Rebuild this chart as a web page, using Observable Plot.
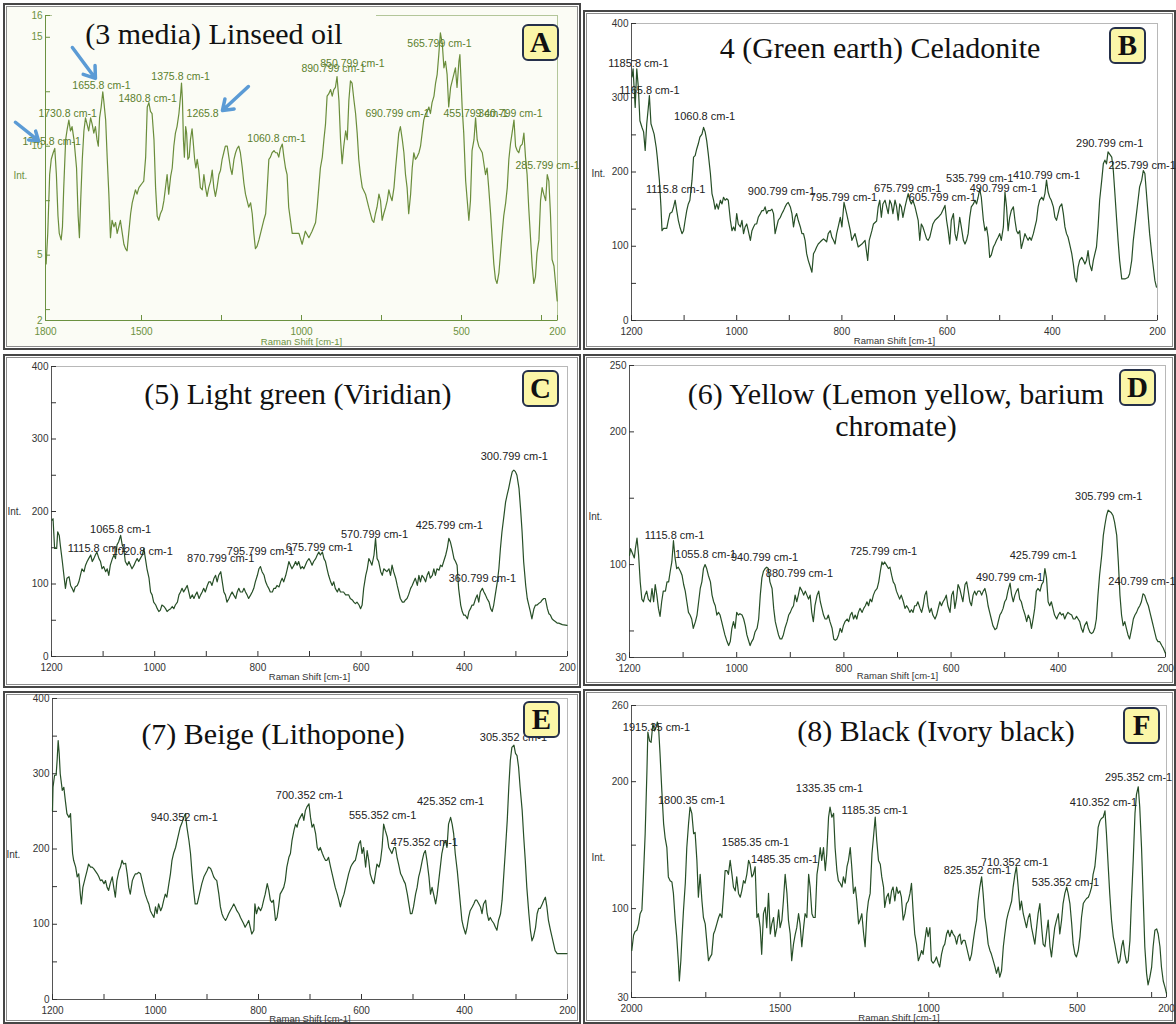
<!DOCTYPE html>
<html><head><meta charset="utf-8">
<script src="https://cdn.jsdelivr.net/npm/d3@7"></script>
<script src="https://cdn.jsdelivr.net/npm/@observablehq/plot@0.6"></script>
<style>
body{margin:0;background:#fff;}
#page{position:relative;width:1176px;height:1024px;overflow:hidden;background:#fff;}
.panel{position:absolute;box-sizing:border-box;border:2px solid #464646;box-shadow:inset 0 0 0 1px #fff, inset 0 0 0 2px #8c8c8c;}
.chart{position:absolute;}
.chart svg{display:block;overflow:visible;}
.title{position:absolute;width:640px;font-family:"Liberation Serif","Times New Roman",serif;font-size:30px;line-height:32px;color:#111;text-align:center;white-space:nowrap;}
.badge{position:absolute;width:37px;height:37px;box-sizing:border-box;border:2px solid #25304a;border-radius:6px;background:#fbf6a8;font-family:"Liberation Serif","Times New Roman",serif;font-weight:bold;font-size:29px;line-height:33px;text-align:center;color:#111;}
.strip{position:absolute;}
</style></head>
<body><div id="page"></div>
<script>
// ---------------- DATA ----------------
const titleA = "(3 media) Linseed oil";
const titleB = "4 (Green earth) Celadonite";
const titleC = "(5) Light green (Viridian)";
const titleD = ["(6) Yellow (Lemon yellow, barium", "chromate)"];
const titleE = "(7) Beige (Lithopone)";
const titleF = "(8) Black (Ivory black)";
const xAxisLabel = "Raman Shift [cm-1]";
const yAxisLabel = "Int.";

// spectra: [Raman shift (cm-1), intensity]
const spectrumA = [[1798,4.6],[1793,6.0],[1787,8.7],[1782,9.4],[1776,9.7],[1771,9.9],[1766,8.7],[1761,6.8],[1757,6.0],[1751,5.7],[1747,6.3],[1743,8.1],[1737,10.3],[1732,10.8],[1727,11.2],[1722,10.7],[1717,10.9],[1711,10.3],[1703,9.0],[1698,6.8],[1694,5.8],[1690,7.5],[1685,9.4],[1680,10.7],[1675,11.3],[1670,11.0],[1665,10.7],[1659,11.3],[1654,11.0],[1649,10.6],[1644,10.9],[1639,10.3],[1635,10.0],[1631,11.3],[1626,11.8],[1621,12.5],[1618,12.1],[1612,11.2],[1607,9.4],[1602,7.8],[1597,5.8],[1592,6.6],[1586,6.3],[1581,6.5],[1576,6.0],[1571,6.3],[1566,6.6],[1560,6.0],[1555,5.5],[1550,5.3],[1545,5.2],[1540,6.0],[1534,6.9],[1529,7.4],[1524,7.7],[1519,8.0],[1514,7.8],[1508,8.1],[1503,8.2],[1498,8.3],[1493,8.4],[1487,9.5],[1482,11.8],[1477,12.0],[1472,11.6],[1467,11.5],[1461,10.3],[1456,8.1],[1451,6.8],[1446,6.6],[1441,6.9],[1435,7.1],[1430,7.5],[1425,8.1],[1420,8.7],[1415,7.8],[1409,8.6],[1404,9.0],[1399,10.0],[1394,10.6],[1389,10.9],[1383,11.5],[1378,12.3],[1375,12.9],[1372,12.1],[1369,10.3],[1366,9.5],[1362,10.9],[1359,10.6],[1355,9.4],[1351,9.5],[1347,10.3],[1342,10.8],[1339,10.3],[1334,9.4],[1330,9.0],[1326,9.4],[1321,8.9],[1316,8.1],[1310,8.0],[1305,8.7],[1300,8.1],[1295,7.7],[1290,8.1],[1284,8.4],[1279,8.9],[1274,8.1],[1269,7.7],[1264,8.1],[1258,8.7],[1253,8.9],[1248,9.4],[1243,9.7],[1238,10.0],[1232,10.0],[1227,9.5],[1222,9.0],[1217,8.7],[1211,9.4],[1206,9.7],[1201,9.9],[1196,10.0],[1191,9.7],[1185,9.0],[1180,8.3],[1175,7.8],[1170,7.5],[1165,7.2],[1159,7.4],[1154,6.9],[1149,6.0],[1144,5.3],[1139,5.4],[1133,5.7],[1128,6.0],[1123,6.3],[1118,6.6],[1112,6.9],[1107,8.1],[1102,9.4],[1097,9.5],[1092,9.7],[1086,9.8],[1081,9.7],[1076,9.7],[1071,9.5],[1066,9.9],[1060,10.1],[1055,9.5],[1050,9.0],[1045,8.7],[1040,7.2],[1029,6.0],[1019,6.0],[1008,6.0],[998,5.5],[988,6.1],[977,5.8],[967,6.1],[956,6.5],[951,7.2],[946,8.1],[941,9.0],[935,9.5],[930,10.3],[925,11.0],[920,12.3],[915,12.4],[909,12.6],[904,12.3],[899,12.6],[894,12.7],[889,13.2],[883,12.1],[878,10.3],[873,9.2],[868,10.0],[862,10.7],[857,10.3],[852,12.1],[847,13.0],[842,12.9],[836,12.1],[831,11.5],[826,10.6],[821,9.4],[816,8.7],[810,8.1],[800,7.8],[790,7.2],[779,6.6],[774,6.5],[769,6.9],[764,7.2],[758,7.8],[753,7.5],[748,6.6],[743,6.9],[737,7.2],[732,7.5],[727,8.0],[722,7.7],[717,7.5],[711,8.1],[706,9.0],[701,9.8],[696,10.6],[691,10.9],[685,10.3],[680,9.7],[675,8.7],[670,8.1],[665,6.9],[659,7.8],[654,9.0],[649,9.7],[644,9.4],[639,9.5],[633,9.7],[628,10.0],[623,10.6],[618,11.2],[612,11.5],[607,11.6],[602,11.8],[597,11.5],[592,12.0],[586,12.3],[581,12.9],[576,13.3],[571,14.2],[566,15.2],[560,14.7],[555,13.6],[550,13.9],[545,13.3],[540,11.8],[534,12.7],[529,13.0],[524,13.3],[519,13.6],[514,12.7],[508,13.9],[505,14.2],[502,13.2],[498,11.8],[493,10.6],[487,8.4],[482,7.5],[477,6.6],[472,7.5],[467,9.8],[461,10.3],[456,11.3],[451,10.3],[446,10.0],[435,9.7],[425,8.7],[420,9.0],[415,8.1],[409,6.9],[404,5.7],[399,4.6],[394,3.9],[389,3.7],[383,4.2],[378,5.1],[373,6.0],[368,6.8],[362,7.4],[357,8.1],[352,9.4],[347,10.1],[342,10.6],[336,11.2],[331,10.0],[326,9.8],[321,9.7],[316,10.0],[310,10.1],[305,10.6],[300,9.5],[295,8.7],[290,7.2],[284,5.7],[279,4.5],[274,3.7],[269,4.0],[264,5.1],[258,5.7],[253,7.5],[248,8.1],[243,7.8],[237,7.5],[232,8.7],[227,8.4],[222,6.9],[217,4.8],[211,4.5],[206,3.7],[201,2.9]];

const spectrumB = [[1199,328],[1197,339],[1193,287],[1190,339],[1187,314],[1184,269],[1180,260],[1177,254],[1174,229],[1171,265],[1168,287],[1166,303],[1163,265],[1160,258],[1157,251],[1153,233],[1151,220],[1147,189],[1144,153],[1142,121],[1139,124],[1133,124],[1130,135],[1127,144],[1123,146],[1120,153],[1117,162],[1114,148],[1111,135],[1108,126],[1104,117],[1101,121],[1098,135],[1095,148],[1092,157],[1089,162],[1085,189],[1082,220],[1079,222],[1076,231],[1073,238],[1070,247],[1066,251],[1063,260],[1060,254],[1057,242],[1054,224],[1050,198],[1047,171],[1044,162],[1041,150],[1038,157],[1035,150],[1031,162],[1028,157],[1025,166],[1022,162],[1019,164],[1016,162],[1012,135],[1009,121],[1006,126],[1003,121],[1000,144],[997,130],[993,126],[990,135],[987,117],[984,126],[981,130],[978,121],[974,108],[971,121],[968,126],[965,130],[962,130],[959,139],[955,144],[952,148],[949,148],[946,153],[943,144],[940,148],[936,148],[933,150],[930,144],[927,117],[924,126],[921,135],[917,139],[914,144],[911,148],[908,153],[905,157],[902,159],[898,153],[895,144],[892,126],[889,139],[886,144],[883,135],[879,126],[876,117],[873,117],[870,108],[867,90],[864,81],[860,72],[857,65],[854,90],[851,94],[848,99],[845,103],[841,106],[838,108],[835,110],[832,108],[829,106],[826,117],[822,121],[819,112],[816,108],[813,103],[810,117],[807,126],[803,139],[800,126],[796,159],[791,144],[784,121],[781,108],[775,117],[769,99],[762,103],[756,108],[751,81],[748,108],[743,121],[740,130],[734,134],[731,153],[728,162],[725,139],[722,157],[718,162],[715,153],[712,144],[709,162],[706,157],[703,144],[699,162],[696,153],[693,135],[690,157],[687,153],[684,139],[680,153],[677,162],[674,171],[671,162],[668,157],[665,162],[661,153],[658,144],[655,135],[652,108],[649,130],[646,126],[642,117],[639,110],[636,108],[633,112],[630,121],[627,130],[623,135],[617,139],[611,144],[604,155],[601,135],[598,121],[595,103],[592,135],[588,144],[585,117],[582,108],[579,121],[576,139],[573,126],[569,108],[566,103],[563,108],[560,117],[557,139],[554,153],[550,157],[547,162],[544,157],[541,166],[538,177],[535,166],[531,135],[528,121],[525,126],[522,112],[519,85],[516,88],[512,99],[509,103],[506,108],[503,112],[500,117],[497,108],[493,126],[490,173],[487,153],[484,121],[481,139],[478,148],[474,153],[471,135],[468,121],[465,117],[462,121],[459,97],[455,108],[452,117],[449,112],[446,108],[443,112],[440,108],[436,117],[433,126],[430,135],[427,153],[424,162],[420,166],[417,162],[414,171],[411,189],[408,173],[405,166],[402,162],[398,153],[395,139],[392,135],[389,144],[386,153],[382,157],[379,144],[376,126],[373,117],[370,112],[367,103],[363,90],[360,76],[357,58],[354,52],[351,72],[348,81],[344,85],[341,81],[338,76],[335,81],[332,94],[329,76],[325,67],[322,81],[319,90],[316,99],[313,126],[310,162],[306,189],[303,211],[300,216],[297,211],[294,227],[291,224],[287,220],[284,202],[281,171],[278,139],[275,108],[272,81],[268,56],[262,56],[256,58],[253,63],[249,81],[246,108],[243,126],[240,144],[237,162],[234,180],[230,189],[227,202],[224,198],[221,171],[218,144],[215,117],[211,90],[208,72],[205,54],[202,45]];

const spectrumC = [[1199,188],[1197,190],[1194,149],[1190,149],[1188,172],[1185,167],[1183,154],[1179,131],[1176,112],[1173,94],[1170,108],[1166,110],[1163,98],[1160,94],[1157,89],[1154,96],[1150,98],[1147,103],[1144,112],[1141,121],[1137,117],[1134,126],[1131,131],[1128,135],[1124,140],[1121,131],[1118,135],[1115,140],[1112,144],[1108,135],[1105,131],[1102,121],[1099,124],[1095,117],[1092,121],[1089,112],[1086,126],[1082,135],[1079,140],[1076,135],[1073,154],[1070,158],[1066,167],[1063,154],[1060,149],[1057,131],[1053,126],[1050,131],[1047,126],[1044,121],[1040,126],[1037,131],[1034,135],[1031,131],[1028,135],[1024,140],[1021,149],[1018,135],[1015,121],[1011,108],[1008,89],[1005,85],[1002,75],[998,71],[995,66],[992,62],[989,64],[986,71],[982,69],[979,66],[976,62],[973,64],[969,66],[966,69],[963,66],[960,71],[956,75],[953,85],[950,89],[947,94],[944,89],[940,94],[937,98],[934,89],[931,80],[927,85],[924,80],[921,85],[918,89],[914,80],[911,85],[908,89],[905,94],[902,89],[898,98],[895,103],[892,103],[889,98],[885,108],[882,112],[879,103],[876,112],[872,117],[869,103],[866,89],[863,85],[860,75],[856,80],[853,85],[850,89],[847,85],[843,80],[840,89],[837,94],[834,89],[830,89],[827,94],[824,89],[821,85],[818,80],[814,85],[811,89],[808,94],[805,103],[801,112],[798,121],[795,124],[792,117],[788,112],[785,103],[782,98],[779,94],[776,89],[772,89],[769,94],[766,94],[763,98],[759,96],[756,103],[753,108],[750,103],[746,112],[743,121],[740,131],[737,126],[734,121],[730,126],[727,131],[724,126],[721,131],[717,121],[714,124],[711,121],[708,126],[705,131],[701,135],[698,131],[695,126],[692,131],[688,135],[685,140],[682,144],[679,140],[675,144],[672,135],[669,131],[666,121],[663,112],[659,103],[656,98],[653,103],[650,94],[646,89],[643,94],[640,89],[637,89],[634,89],[630,85],[624,85],[621,80],[617,78],[614,75],[611,73],[608,75],[604,71],[601,66],[598,71],[595,94],[591,112],[588,121],[585,135],[582,131],[579,126],[575,140],[572,163],[569,135],[566,131],[562,117],[559,112],[556,121],[553,119],[550,117],[546,121],[543,112],[540,126],[537,117],[533,108],[530,98],[527,89],[524,80],[520,75],[517,75],[514,78],[511,80],[508,85],[504,94],[501,98],[498,103],[495,108],[491,98],[488,112],[485,103],[482,112],[478,108],[475,103],[472,112],[469,117],[466,108],[462,112],[459,121],[456,112],[453,121],[449,119],[446,126],[443,124],[440,131],[436,140],[433,149],[430,163],[427,158],[424,149],[420,135],[417,131],[414,126],[411,94],[407,71],[404,62],[401,57],[398,57],[394,52],[391,62],[388,66],[385,71],[382,71],[378,80],[375,85],[372,75],[369,89],[365,94],[362,89],[359,85],[356,80],[352,75],[349,66],[346,62],[343,71],[340,85],[336,103],[333,121],[330,149],[327,172],[323,195],[320,213],[317,223],[314,232],[310,246],[307,255],[304,257],[301,255],[298,250],[294,232],[291,204],[288,172],[285,131],[281,98],[278,80],[275,71],[272,62],[269,52],[265,66],[262,71],[259,71],[256,73],[252,75],[249,78],[246,80],[243,80],[239,66],[236,59],[233,57],[230,52],[227,50],[223,48],[220,46],[217,46],[210,44],[201,43]];

const spectrumD = [[1200,107],[1198,112],[1194,108],[1191,105],[1189,112],[1186,120],[1183,107],[1180,87],[1177,74],[1174,72],[1171,77],[1168,80],[1165,74],[1161,72],[1158,82],[1155,72],[1152,85],[1149,77],[1146,67],[1143,61],[1140,72],[1137,80],[1133,80],[1130,87],[1127,87],[1124,95],[1121,102],[1118,118],[1115,105],[1112,97],[1109,98],[1105,95],[1102,92],[1099,85],[1096,80],[1093,72],[1090,64],[1087,62],[1084,59],[1081,52],[1077,57],[1074,62],[1071,72],[1068,82],[1065,87],[1062,97],[1059,100],[1056,97],[1053,92],[1049,87],[1046,77],[1043,72],[1040,69],[1037,62],[1034,64],[1031,62],[1028,57],[1025,52],[1022,47],[1018,42],[1015,39],[1012,42],[1009,52],[1006,57],[1003,52],[1000,64],[997,62],[994,63],[990,62],[987,59],[984,54],[981,47],[978,43],[975,39],[972,42],[969,44],[966,49],[962,52],[959,59],[956,77],[953,90],[950,95],[947,97],[944,98],[941,97],[938,87],[934,82],[931,67],[928,57],[925,52],[922,47],[919,44],[916,44],[913,47],[910,52],[906,57],[903,62],[900,64],[897,67],[894,69],[891,77],[888,72],[885,77],[882,83],[878,80],[875,77],[872,80],[869,77],[866,74],[863,77],[860,64],[857,57],[854,69],[850,77],[847,80],[844,72],[841,67],[838,62],[835,59],[832,59],[829,62],[826,57],[822,52],[819,44],[816,43],[813,44],[810,47],[807,52],[804,49],[801,54],[798,57],[794,59],[791,57],[788,62],[785,64],[782,59],[779,62],[776,59],[773,64],[770,67],[766,64],[763,67],[760,69],[757,72],[754,69],[751,74],[748,72],[745,77],[742,80],[738,82],[735,87],[732,95],[729,102],[727,100],[724,102],[721,100],[717,97],[714,98],[711,92],[708,87],[705,85],[702,80],[699,77],[696,74],[693,77],[689,72],[686,67],[683,69],[680,67],[677,64],[674,66],[671,64],[668,69],[665,69],[662,72],[658,67],[655,64],[652,69],[649,77],[646,80],[643,69],[640,64],[637,67],[634,62],[630,59],[627,62],[624,67],[621,72],[618,69],[615,72],[612,74],[609,77],[606,69],[602,64],[599,77],[596,80],[593,67],[590,74],[587,85],[584,82],[581,77],[578,72],[574,85],[571,87],[568,80],[565,72],[562,69],[559,77],[556,80],[553,77],[550,80],[546,80],[543,77],[540,80],[537,82],[534,77],[531,69],[528,64],[525,59],[522,54],[518,51],[515,52],[512,57],[509,62],[506,64],[503,67],[500,72],[497,74],[494,80],[490,86],[487,77],[484,72],[481,77],[478,80],[475,82],[472,74],[469,72],[466,67],[462,62],[459,57],[456,62],[453,59],[450,52],[447,59],[444,67],[441,80],[438,82],[434,80],[431,85],[428,87],[425,97],[422,90],[419,72],[416,69],[413,72],[410,67],[407,62],[403,59],[400,62],[397,64],[394,62],[391,63],[388,59],[385,62],[382,64],[379,63],[375,62],[372,59],[369,59],[366,61],[363,59],[360,57],[357,52],[354,49],[351,54],[347,57],[344,52],[341,49],[338,48],[335,49],[332,52],[329,59],[326,77],[323,92],[319,107],[316,122],[313,130],[310,137],[307,141],[304,140],[301,139],[298,137],[295,132],[291,122],[288,102],[285,77],[282,62],[279,54],[276,57],[273,52],[270,47],[267,44],[263,52],[260,59],[257,62],[254,64],[251,67],[248,69],[245,72],[242,78],[239,77],[235,72],[232,69],[229,64],[226,59],[223,54],[220,49],[217,44],[214,42],[211,42],[207,39],[204,37],[201,34],[200,33]];

const spectrumE = [[1200,251],[1199,282],[1196,298],[1193,298],[1191,318],[1189,344],[1187,327],[1185,300],[1181,278],[1178,282],[1175,264],[1172,247],[1168,242],[1165,247],[1163,220],[1161,194],[1159,185],[1155,176],[1152,163],[1149,167],[1146,140],[1144,127],[1141,149],[1136,163],[1133,171],[1130,180],[1126,176],[1123,176],[1120,174],[1117,171],[1113,167],[1110,163],[1107,158],[1104,159],[1100,154],[1097,158],[1094,149],[1091,145],[1088,154],[1084,163],[1081,149],[1078,136],[1075,158],[1071,171],[1068,176],[1065,185],[1062,180],[1058,181],[1055,167],[1052,149],[1049,140],[1045,158],[1042,163],[1039,167],[1036,167],[1033,169],[1029,167],[1026,158],[1023,149],[1020,140],[1016,132],[1013,127],[1010,118],[1007,114],[1003,109],[1000,123],[997,114],[994,127],[990,118],[987,123],[984,132],[981,140],[978,136],[974,154],[971,167],[968,185],[965,194],[961,202],[958,211],[955,220],[952,229],[948,236],[945,242],[942,247],[939,229],[935,211],[932,194],[929,167],[926,145],[923,127],[919,127],[916,136],[913,145],[910,154],[906,163],[903,167],[900,171],[897,176],[893,174],[890,169],[887,163],[884,160],[881,158],[877,140],[874,123],[871,114],[868,109],[864,105],[861,109],[858,114],[855,118],[851,123],[848,127],[845,123],[842,118],[838,114],[835,109],[832,105],[829,101],[826,96],[822,101],[819,105],[816,96],[813,87],[809,92],[807,127],[804,114],[800,123],[796,118],[793,123],[790,132],[787,140],[783,154],[780,145],[777,132],[774,129],[771,132],[767,105],[764,109],[761,123],[758,140],[754,145],[751,149],[748,158],[745,176],[741,189],[738,194],[735,211],[731,225],[728,233],[725,229],[722,238],[719,242],[715,247],[712,238],[709,251],[706,256],[702,260],[699,242],[696,229],[693,233],[689,220],[686,202],[683,198],[680,202],[676,194],[673,189],[670,185],[667,185],[664,189],[660,176],[657,167],[654,158],[651,149],[647,140],[644,132],[641,123],[638,132],[634,140],[631,149],[628,158],[625,167],[621,176],[618,180],[615,183],[612,185],[609,194],[605,207],[602,211],[599,194],[596,202],[592,176],[589,198],[586,185],[583,167],[579,158],[576,154],[573,167],[570,180],[566,176],[563,185],[560,202],[557,233],[554,225],[550,216],[547,202],[544,198],[541,194],[537,202],[534,202],[531,189],[528,180],[524,167],[521,163],[518,158],[515,154],[511,140],[508,127],[505,114],[502,114],[499,123],[495,140],[492,149],[489,163],[486,171],[482,185],[479,194],[476,198],[473,185],[469,163],[466,140],[463,149],[460,140],[456,127],[453,140],[450,158],[447,176],[444,194],[440,207],[437,211],[434,202],[431,233],[427,242],[424,233],[421,220],[418,194],[414,171],[411,149],[408,127],[405,105],[402,96],[398,87],[395,96],[392,109],[389,118],[385,123],[382,127],[379,132],[376,132],[372,127],[369,123],[366,114],[363,127],[359,132],[356,114],[353,105],[350,109],[347,105],[343,101],[340,96],[337,92],[334,105],[330,114],[327,132],[324,163],[321,194],[317,238],[314,282],[311,318],[308,335],[304,338],[301,327],[298,324],[295,309],[292,282],[288,251],[285,216],[282,185],[279,149],[275,114],[272,92],[269,78],[266,83],[262,96],[259,114],[256,121],[253,121],[249,127],[246,132],[243,136],[240,123],[237,105],[233,92],[230,83],[227,74],[224,65],[220,61],[217,61],[211,61],[201,61]];

const spectrumF = [[1999,67],[1993,79],[1988,82],[1982,83],[1976,88],[1971,96],[1965,99],[1960,125],[1954,159],[1948,209],[1945,239],[1939,232],[1934,231],[1928,246],[1923,240],[1917,243],[1913,247],[1909,243],[1904,222],[1898,193],[1892,167],[1887,156],[1881,148],[1876,125],[1870,122],[1864,121],[1859,112],[1853,91],[1848,78],[1842,57],[1839,43],[1834,59],[1830,78],[1825,99],[1819,120],[1814,148],[1808,167],[1803,180],[1797,175],[1791,159],[1786,160],[1780,138],[1775,109],[1769,127],[1763,106],[1758,93],[1752,88],[1747,75],[1741,59],[1735,62],[1730,64],[1724,80],[1719,83],[1713,88],[1707,93],[1702,96],[1696,93],[1690,112],[1685,130],[1679,130],[1674,127],[1668,138],[1662,127],[1657,117],[1651,114],[1646,125],[1640,112],[1634,109],[1629,114],[1623,122],[1618,120],[1612,127],[1606,138],[1601,135],[1595,125],[1590,127],[1584,133],[1578,93],[1573,96],[1567,85],[1562,64],[1556,96],[1550,101],[1545,85],[1539,112],[1533,80],[1528,88],[1522,93],[1517,78],[1511,85],[1505,99],[1500,85],[1494,91],[1489,106],[1483,127],[1477,112],[1472,91],[1466,80],[1461,59],[1455,72],[1449,80],[1444,85],[1438,96],[1433,88],[1427,70],[1421,85],[1416,96],[1410,93],[1404,127],[1399,117],[1393,96],[1388,93],[1382,93],[1376,127],[1371,135],[1365,148],[1360,138],[1354,148],[1348,130],[1343,143],[1337,172],[1332,180],[1326,172],[1320,175],[1315,148],[1309,130],[1304,122],[1298,120],[1292,117],[1287,125],[1281,120],[1275,133],[1270,138],[1264,148],[1259,133],[1253,112],[1247,117],[1242,106],[1236,88],[1231,91],[1225,96],[1219,80],[1214,70],[1208,96],[1203,106],[1197,112],[1191,143],[1186,156],[1180,172],[1175,154],[1169,138],[1163,135],[1158,125],[1152,117],[1148,101],[1142,109],[1136,112],[1131,104],[1125,114],[1120,117],[1114,106],[1108,117],[1103,112],[1097,114],[1092,109],[1086,91],[1080,96],[1075,104],[1069,106],[1063,112],[1058,120],[1052,96],[1047,80],[1041,72],[1035,59],[1030,62],[1024,67],[1019,64],[1013,75],[1007,85],[1002,78],[996,85],[991,59],[985,57],[979,59],[974,62],[968,57],[963,54],[957,64],[951,70],[946,72],[940,80],[935,83],[929,78],[923,83],[918,80],[912,78],[906,72],[901,78],[895,80],[890,72],[884,75],[878,75],[873,70],[867,64],[862,59],[856,64],[850,75],[845,83],[839,91],[834,106],[828,117],[822,125],[817,112],[811,93],[806,85],[800,72],[794,67],[789,64],[783,59],[777,54],[772,49],[766,54],[761,46],[755,51],[749,70],[744,80],[738,91],[733,96],[727,101],[721,106],[716,117],[710,127],[705,133],[699,117],[693,99],[688,106],[682,96],[677,91],[671,85],[665,93],[660,96],[654,85],[648,78],[643,72],[637,85],[632,96],[626,104],[620,85],[615,72],[609,70],[604,80],[598,91],[592,70],[587,62],[581,75],[576,85],[570,91],[564,96],[559,80],[553,91],[548,104],[542,112],[536,117],[531,112],[525,104],[519,88],[514,72],[508,64],[503,62],[497,67],[491,78],[486,93],[480,104],[475,106],[469,108],[463,109],[458,112],[452,117],[447,127],[441,133],[435,148],[430,164],[424,169],[419,171],[413,172],[407,177],[402,159],[396,133],[391,112],[385,91],[379,78],[374,72],[368,64],[362,57],[357,59],[351,70],[346,75],[340,64],[334,57],[329,59],[323,75],[318,106],[312,138],[306,175],[301,190],[295,196],[290,180],[284,148],[278,106],[273,70],[267,49],[262,40],[256,46],[250,54],[245,70],[239,83],[233,84],[228,80],[222,70],[217,54],[211,43],[205,38],[200,33]];

// peak annotations: [label, shift, intensity]
const peaksA = [["1745.8 cm-1",1781,10.2],["1730.8 cm-1",1731,11.5],["1655.8 cm-1",1625,12.8],["1480.8 cm-1",1481,12.2],["1375.8 cm-1",1378,13.2],["1265.8",1309,11.5],["1060.8 cm-1",1078,10.35],["890.799 cm-1",900,13.55],["850.799 cm-1",841,13.8],["690.799 cm-1",700,11.5],["565.799 cm-1",569,14.7],["455.799 cm-1",456,11.5],["340.799 cm-1",347,11.5],["285.799 cm-1",231,9.1]];
const peaksB = [["1185.8 cm-1",1187,346],["1165.8 cm-1",1166,310],["1060.8 cm-1",1061,275],["1115.8 cm-1",1116,176],["900.799 cm-1",915,174],["795.799 cm-1",797,166],["675.799 cm-1",675,178],["605.799 cm-1",609,166],["535.799 cm-1",538,191],["490.799 cm-1",493,178],["410.799 cm-1",411,195],["290.799 cm-1",291,238],["225.799 cm-1",229,209]];
const peaksC = [["1065.8 cm-1",1066,175],["1115.8 cm-1",1111,149],["1020.8 cm-1",1024,145],["870.799 cm-1",872,135],["795.799 cm-1",795,145],["675.799 cm-1",681,150],["570.799 cm-1",574,168],["425.799 cm-1",429,181],["360.799 cm-1",365,108],["300.799 cm-1",303,276]];
const peaksD = [["1115.8 cm-1",1116,122],["1055.8 cm-1",1058,108],["940.799 cm-1",948,105],["880.799 cm-1",883,93],["725.799 cm-1",726,110],["490.799 cm-1",491,90],["425.799 cm-1",428,107],["305.799 cm-1",306,151],["240.799 cm-1",244,87]];
const peaksE = [["940.352 cm-1",944,242],["700.352 cm-1",701,271],["555.352 cm-1",559,245],["475.352 cm-1",478,209],["425.352 cm-1",427,263],["305.352 cm-1",305,348]];
const peaksF = [["1915.35 cm-1",1916,243],["1800.35 cm-1",1798,185],["1585.35 cm-1",1583,152],["1485.35 cm-1",1485,139],["1335.35 cm-1",1334,195],["1185.35 cm-1",1182,177],["825.352 cm-1",836,130],["710.352 cm-1",711,136],["535.352 cm-1",540,121],["410.352 cm-1",412,184],["295.352 cm-1",294,203]];

// arrows in panel A: [shiftFrom, intFrom, shiftTo, intTo]
const arrowsA = [[1894,11.1,1822,10.26],[1716,14.53,1644,13.11],[1166,12.74,1247,11.64]];

// axis domains and ticks
const xDomainA = [1800, 200], yDomainA = [2, 16];
const xTicksA = [1800,1500,1250,1000,750,500,250,200], xTickLabelsA = [1800,1500,1000,500,200];
const yTicksA = [2,2.5,5,7.5,10,12.5,15,16], yTickLabelsA = [2,5,10,15,16];
const xDomain1200 = [1200, 200];
const xTicks1200 = [1200,1100,1000,900,800,700,600,500,400,300,200], xTickLabels1200 = [1200,1000,800,600,400,200];
const yDomain400 = [0, 400];
const yTicks400 = [0,50,100,150,200,250,300,350,400], yTickLabels400 = [0,100,200,300,400];
const yDomainD = [30, 250], yTicksD = [30,50,100,150,200,250], yTickLabelsD = [30,100,200,250];
const xDomainF = [2000, 200];
const xTicksF = [2000,1750,1500,1250,1000,750,500,250,200], xTickLabelsF = [2000,1500,1000,500,200];
const yDomainF = [30, 260], yTicksF = [30,50,100,150,200,260], yTickLabelsF = [30,100,200,260];

// ---------------- LAYOUT / STYLE ----------------
const greenTheme = {line:"#6a8d3b", axis:"#6b9140", label:"#5b7f2e", frame:"#b3c69a", axisLine:"#6b9140", bg:"#fbfcf5", labelSize:10.5};
const darkTheme = {line:"#274f27", axis:"#333333", label:"#222222", frame:"#b8b8b8", axisLine:"#555555", bg:"#ffffff", labelSize:11};

const panels = [
  {id:"A", box:[3,3,578,347], m:[12,24,30,42], spec:spectrumA, peaks:peaksA, xd:xDomainA, yd:yDomainA, xt:xTicksA, xl:xTickLabelsA, yt:yTicksA, yl:yTickLabelsA, theme:greenTheme, intDx:-32, intDy:8, ramanDy:24,
   title:[titleA], tcx:214, tbase:46, badge:[522,24], strip:[52,12,324,5]},
  {id:"B", box:[583,10,593,340], m:[13,19,30,48], spec:spectrumB, peaks:peaksB, xd:xDomain1200, yd:yDomain400, xt:xTicks1200, xl:xTickLabels1200, yt:yTicks400, yl:yTickLabels400, theme:darkTheme, intDx:-40, intDy:2, ramanDy:23,
   title:[titleB], tcx:880, tbase:60, badge:[1109,27]},
  {id:"C", box:[3,354,578,334], m:[12,14,32,48], spec:spectrumC, peaks:peaksC, xd:xDomain1200, yd:yDomain400, xt:xTicks1200, xl:xTickLabels1200, yt:yTicks400, yl:yTickLabels400, theme:darkTheme, intDx:-44, intDy:0, ramanDy:23,
   title:[titleC], tcx:298, tbase:406, badge:[522,370]},
  {id:"D", box:[583,354,593,332], m:[11,11,29,46], spec:spectrumD, peaks:peaksD, xd:xDomain1200, yd:yDomainD, xt:xTicks1200, xl:xTickLabels1200, yt:yTicksD, yl:yTickLabelsD, theme:darkTheme, intDx:-41, intDy:5, ramanDy:21,
   title:titleD, tcx:896, tbase:406, badge:[1119,369]},
  {id:"E", box:[3,691,578,333], m:[7,14,25,49], spec:spectrumE, peaks:peaksE, xd:xDomain1200, yd:yDomain400, xt:xTicks1200, xl:xTickLabels1200, yt:yTicks400, yl:yTickLabels400, theme:darkTheme, intDx:-46, intDy:6, ramanDy:22,
   title:[titleE], tcx:273, tbase:746, badge:[523,701]},
  {id:"F", box:[583,689,593,335], m:[16,10,27,48], spec:spectrumF, peaks:peaksF, xd:xDomainF, yd:yDomainF, xt:xTicksF, xl:xTickLabelsF, yt:yTicksF, yl:yTickLabelsF, theme:darkTheme, intDx:-40, intDy:6, ramanDy:23,
   title:[titleF], tcx:936, tbase:743, badge:[1123,707]}
];

const page = document.getElementById("page");

for (const p of panels) {
  const [bx, by, bw, bh] = p.box;
  const th = p.theme;
  const frame = document.createElement("div");
  frame.className = "panel";
  frame.style.cssText = `left:${bx}px;top:${by}px;width:${bw}px;height:${bh}px;background:${th.bg};`;
  page.appendChild(frame);

  const rows = p.spec.map(([s, v]) => ({s, v}));
  const peaks = p.peaks.map(([t, s, v]) => ({t, s, v}));
  const marks = [
    Plot.frame({stroke: th.frame, strokeWidth: 1}),
    Plot.ruleX([p.xd[0]], {stroke: th.axisLine, strokeWidth: 1}),
    Plot.ruleY([p.yd[0]], {stroke: th.axisLine, strokeWidth: 1}),
    Plot.axisX(p.xt, {tickSize: 5, dy: -5, tickPadding: 7, label: null, stroke: th.axis, fill: th.axis,
      tickFormat: d => p.xl.includes(d) ? String(d) : "", fontSize: 10}),
    Plot.axisY(p.yt, {tickSize: 5, dx: 5, tickPadding: 3, label: null, stroke: th.axis, fill: th.axis,
      tickFormat: d => p.yl.includes(d) ? String(d) : "", fontSize: 10}),
    Plot.line(rows, {x: "s", y: "v", stroke: th.line, strokeWidth: 1.2, strokeLinejoin: "round"}),
    Plot.text(peaks, {x: "s", y: "v", text: "t", fill: th.label, fontSize: th.labelSize}),
    Plot.text([yAxisLabel], {text: d => d, frameAnchor: "left", dx: p.intDx, dy: p.intDy, textAnchor: "start", fill: th.axis, fontSize: 10}),
    Plot.text([xAxisLabel], {text: d => d, frameAnchor: "bottom", dy: p.ramanDy, fill: th.axis, fontSize: 9.5})
  ];
  if (p.id === "A") {
    const arr = arrowsA.map(([x1, y1, x2, y2]) => ({x1, y1, x2, y2}));
    marks.push(Plot.arrow(arr, {x1: "x1", y1: "y1", x2: "x2", y2: "y2", stroke: "#5b9bd5", strokeWidth: 3.5, headLength: 11, headAngle: 70}));
  }
  const svg = Plot.plot({
    width: bw, height: bh,
    marginTop: p.m[0], marginRight: p.m[1], marginBottom: p.m[2], marginLeft: p.m[3],
    style: {background: "transparent", fontFamily: "'Liberation Sans', Arial, sans-serif", fontSize: "10px", color: th.axis, overflow: "visible"},
    x: {domain: p.xd},
    y: {domain: p.yd},
    marks
  });
  const holder = document.createElement("div");
  holder.className = "chart";
  holder.style.cssText = `left:${bx}px;top:${by}px;width:${bw}px;height:${bh}px;`;
  holder.appendChild(svg);
  page.appendChild(holder);

  if (p.strip) {
    const s = document.createElement("div");
    s.className = "strip";
    s.style.cssText = `left:${p.strip[0]}px;top:${p.strip[1]}px;width:${p.strip[2]}px;height:${p.strip[3]}px;background:${th.bg};`;
    page.appendChild(s);
  }

  const t = document.createElement("div");
  t.className = "title";
  t.style.cssText = `left:${p.tcx - 320}px;top:${p.tbase - 28}px;`;
  t.innerHTML = p.title.join("<br>");
  page.appendChild(t);

  const b = document.createElement("div");
  b.className = "badge";
  b.style.cssText = `left:${p.badge[0]}px;top:${p.badge[1]}px;`;
  b.textContent = p.id;
  page.appendChild(b);
}
</script>
</body></html>
